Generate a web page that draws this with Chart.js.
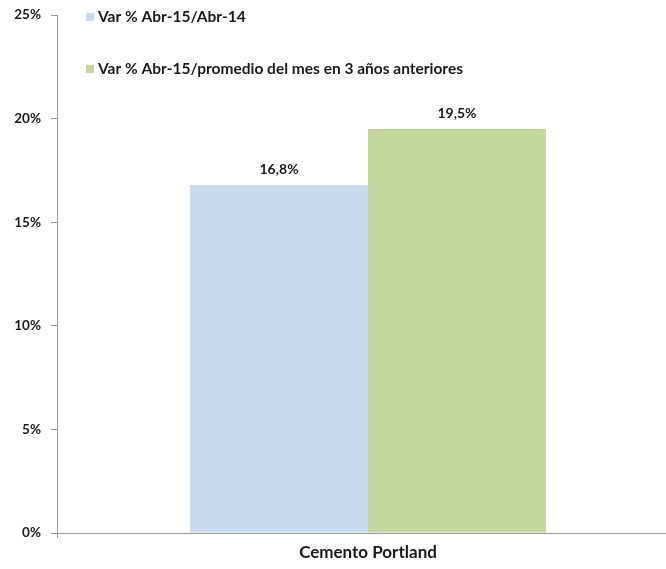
<!DOCTYPE html>
<html>
<head>
<meta charset="utf-8">
<script src="https://cdn.jsdelivr.net/npm/chart.js@4"></script>
<style>
  html, body { margin: 0; padding: 0; overflow: hidden; background: #fff; }
  #wrap { width: 679px; height: 569px; position: relative; }
</style>
</head>
<body>
<div id="wrap"><canvas id="grafikas"></canvas></div>
<script>
var categories = ["Cemento Portland"];
var seriesNames = ["Var % Abr-15/Abr-14", "Var % Abr-15/promedio del mes en 3 años anteriores"];
var varAnual = [16.8];
var varPromedio = [19.5];
var yTicks = [0, 5, 10, 15, 20, 25];

var fuente = "Lato, 'Open Sans', sans-serif";

function pct(v) {
    return v.toFixed(1).replace('.', ',') + '%';
}

// etiquetas de valor arriba de cada barra
var etiquetas = {
    id: 'etiquetas',
    afterDatasetsDraw: function(chart) {
        var ctx = chart.ctx;
        ctx.save();
        ctx.font = "bold 14px " + fuente;
        ctx.fillStyle = "#1a1a1a";
        ctx.textAlign = "center";
        ctx.textBaseline = "bottom";
        chart.data.datasets.forEach(function(ds, i) {
            chart.getDatasetMeta(i).data.forEach(function(bar, j) {
                ctx.fillText(pct(ds.data[j]), bar.x, bar.y - 8);
            });
        });
        ctx.restore();
    }
};

// leyenda dentro del area del grafico
var leyenda = {
    id: 'leyenda',
    afterDraw: function(chart) {
        var ctx = chart.ctx;
        ctx.save();
        ctx.font = "bold 15.5px " + fuente;
        ctx.textBaseline = "middle";
        ctx.textAlign = "left";
        chart.data.datasets.forEach(function(ds, i) {
            var y = 17 + i * 52;
            ctx.fillStyle = ds.backgroundColor;
            ctx.fillRect(86, y - 4, 8, 8);
            ctx.fillStyle = "#1a1a1a";
            ctx.fillText(ds.label, 98, y);
        });
        ctx.restore();
    }
};

new Chart(document.getElementById('grafikas'), {
    type: 'bar',
    data: {
        labels: categories,
        datasets: [
            { label: seriesNames[0], data: varAnual, backgroundColor: '#C6D9F0' },
            { label: seriesNames[1], data: varPromedio, backgroundColor: '#C4D69B' }
        ]
    },
    options: {
        responsive: true,
        maintainAspectRatio: false,
        animation: false,
        layout: { padding: { top: 15, right: 0, left: 0, bottom: 0 } },
        plugins: {
            legend: { display: false },
            tooltip: { enabled: false }
        },
        datasets: {
            bar: { categoryPercentage: 0.572, barPercentage: 1.0 }
        },
        scales: {
            x: {
                grid: { drawOnChartArea: false, tickLength: 5, color: '#999' },
                border: { color: '#999' },
                ticks: {
                    font: { family: fuente, size: 17, weight: 'bold' },
                    color: '#1a1a1a',
                    padding: 4
                },
                afterFit: function(axis) {
                    axis.height = 36;
                    axis.paddingLeft = 0;
                    axis.paddingRight = 0;
                }
            },
            y: {
                min: 0,
                max: 25,
                afterBuildTicks: function(axis) {
                    axis.ticks = yTicks.map(function(v) { return { value: v }; });
                },
                grid: { drawOnChartArea: false, tickLength: 6, color: '#999' },
                border: { color: '#999' },
                ticks: {
                    font: { family: fuente, size: 13.5, weight: 'bold' },
                    color: '#1a1a1a',
                    padding: 10,
                    callback: function(v) { return v + '%'; }
                },
                afterFit: function(axis) {
                    axis.width = 57;
                    axis.paddingTop = 0;
                    axis.paddingBottom = 0;
                }
            }
        }
    },
    plugins: [etiquetas, leyenda]
});
</script>
</body>
</html>
